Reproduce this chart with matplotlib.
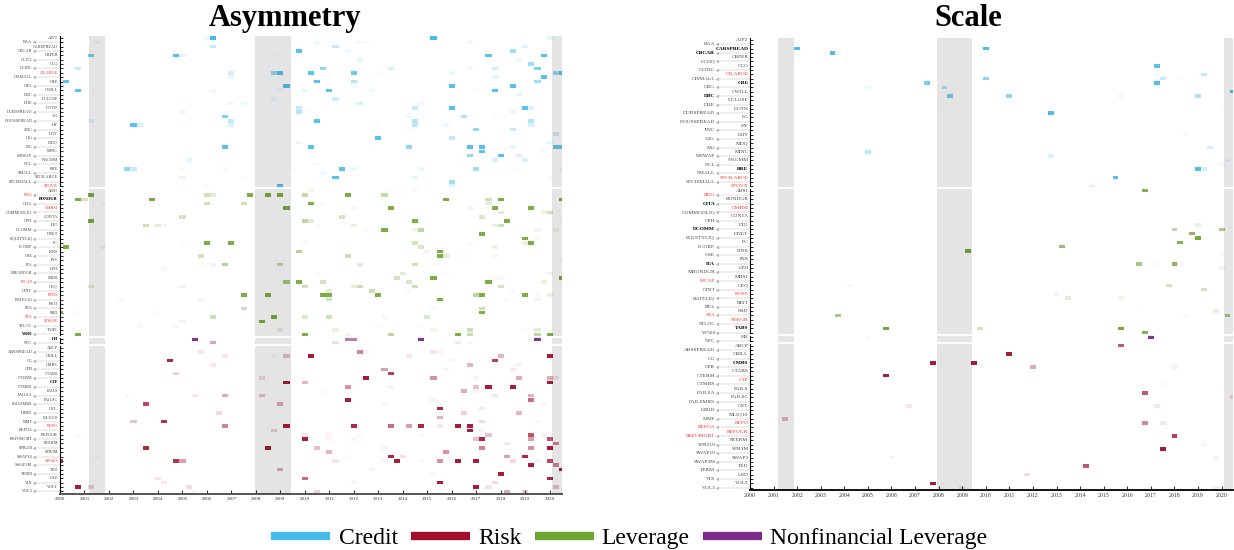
import matplotlib
matplotlib.use('Agg')
import matplotlib.pyplot as plt
import matplotlib.transforms as mtransforms
from matplotlib.lines import Line2D
from matplotlib.colors import to_rgba

plt.rcParams['font.family'] = ['Liberation Serif', 'DejaVu Serif']

# ---------------- variables (rows, top to bottom) ----------------
credit_vars = ['A2P2', 'BAA', 'CARSPREAD', 'CBCAR', 'CBPER', 'CCDQ', 'CCG', 'CCINC',
               'CILARGE', 'CISMALL', 'CRE', 'CRG', 'CWILL', 'DBC', 'DCLOSE', 'DHE',
               'DOTH', 'DURSPREAD', 'FG', 'HOUSSPREAD', 'HY', 'JINC', 'LHY', 'LIG',
               'MDQ', 'MG', 'MINC', 'MSWAP', 'NACMM', 'NCL', 'RRE', 'SMALL',
               'SPCILARGE', 'SPCISMALL', 'SPOVX']
leverage_vars = ['ABSI', 'BDG', 'BONDGR', 'CITA', 'CMBSI', 'COMMODLIQ', 'CONTA', 'CPH',
                 'DIO', 'DCOMM', 'DNET', 'EQUITYLIQ', 'FC', 'FCORP', 'FINS', 'GSE',
                 'INS', 'ITA', 'LPH', 'MBONDGR', 'MBSI', 'MCAP', 'OEQ', 'OINT', 'PENS',
                 'RATELIQ', 'REIT', 'RTA', 'SBD', 'STA', 'STKGR', 'STLOC', 'TABS', 'W500']
nonfin_vars = ['HH', 'NFC']
risk_vars = ['ABCP', 'ABSSPREAD', 'CBILL', 'CG', 'CMBS', 'CPR', 'CTABS', 'CTERM', 'CTF',
             'CTMBS', 'FAILS', 'FAILSA', 'FAILSC', 'FAILSMBS', 'GVL', 'LIBID', 'MLIQ10',
             'MMF', 'REPO', 'REPOA', 'REPOGR', 'REPOMORT', 'RTERM', 'SPR210', 'SPR3M',
             'SWAP10', 'SWAP2', 'SWAP3M', 'TED', 'TERM', 'USD', 'VIX', 'VOLT', 'VOL3']

group_names = ['Credit', 'Risk', 'Leverage', 'Nonfinancial Leverage']
group_colors = {'Credit': '#45BCEC', 'Risk': '#A50F2C', 'Leverage': '#6EA52E',
                'Nonfinancial Leverage': '#7A2B8B'}

years = list(range(2000, 2021))
recessions = [(2001.2, 2001.85), (2007.95, 2009.42), (2020.1, 2020.6)]

# label styling per panel
asym_red = ['CILARGE', 'SPOVX', 'BDG', 'CMBSI', 'MCAP', 'PENS', 'STA', 'STKGR', 'REPO', 'SWAP2']
asym_bold = ['BONDGR', 'HH', 'CTF', 'W500']
scale_red = ['CILARGE', 'SPCILARGE', 'SPOVX', 'BDG', 'CMBSI', 'MCAP', 'PENS', 'STA', 'STKGR',
             'CTF', 'REPO', 'REPOA', 'REPOGR', 'REPOMORT']
scale_bold = ['CARSPREAD', 'CBCAR', 'CRE', 'DBC', 'RRE', 'CITA', 'DCOMM', 'ITA', 'TABS', 'CMBS']

# ---------------- cells: (variable, quarter date, intensity) ----------------
asym_credit = [
    ('A2P2', 2006.0, .1), ('A2P2', 2006.25, 1.0), ('A2P2', 2007.5, .05), ('A2P2', 2015.25, 1.0), ('A2P2', 2020.0, .15),
    ('BAA', 2001.5, .1), ('BAA', 2010.5, .1), ('BAA', 2012.25, .08), ('BAA', 2012.5, .05), ('BAA', 2016.75, .1),
    ('CARSPREAD', 2006.25, .3), ('CARSPREAD', 2011.25, .3), ('CARSPREAD', 2019.0, .15),
    ('CBCAR', 2009.75, .9), ('CBCAR', 2011.75, .1), ('CBCAR', 2018.5, .5),
    ('CBPER', 2001.25, .7), ('CBPER', 2004.75, .9), ('CBPER', 2005.0, .15), ('CBPER', 2008.75, .05),
    ('CBPER', 2017.5, .9), ('CBPER', 2019.75, .9),
    ('CCDQ', 2012.25, .15), ('CCDQ', 2018.75, .1),
    ('CCG', 2019.25, .5),
    ('CCINC', 2000.75, .3), ('CCINC', 2010.75, .6), ('CCINC', 2013.5, .2), ('CCINC', 2016.75, .1),
    ('CCINC', 2017.75, .25), ('CCINC', 2019.5, .7),
    ('CILARGE', 2007.0, .25), ('CILARGE', 2008.75, .5), ('CILARGE', 2009.0, .9), ('CILARGE', 2010.25, .9),
    ('CILARGE', 2012.0, .8), ('CILARGE', 2013.0, .05), ('CILARGE', 2016.0, .1), ('CILARGE', 2020.25, .5),
    ('CILARGE', 2020.5, .9),
    ('CISMALL', 2007.0, .1), ('CISMALL', 2011.0, .05), ('CISMALL', 2017.75, .15), ('CISMALL', 2019.75, .9),
    ('CRE', 2000.25, .9), ('CRE', 2010.5, .9), ('CRE', 2012.0, .4), ('CRE', 2019.5, .5),
    ('CRG', 2009.25, .9), ('CRG', 2012.0, .05), ('CRG', 2016.0, .9), ('CRG', 2018.5, .9),
    ('CWILL', 2000.75, .9), ('CWILL', 2006.25, .1), ('CWILL', 2009.0, .1), ('CWILL', 2010.0, .15),
    ('CWILL', 2011.0, .9), ('CWILL', 2012.75, .1), ('CWILL', 2017.0, .05), ('CWILL', 2017.75, .9),
    ('DBC', 2018.75, .15),
    ('DCLOSE', 2008.75, .1), ('DCLOSE', 2011.25, .25),
    ('DHE', 2007.0, .1), ('DHE', 2007.5, .1), ('DHE', 2012.0, .05), ('DHE', 2012.25, .25), ('DHE', 2014.75, .1),
    ('DOTH', 2009.75, .3), ('DOTH', 2014.5, .3), ('DOTH', 2016.0, .9), ('DOTH', 2019.0, .9), ('DOTH', 2019.25, .2),
    ('DURSPREAD', 2005.0, .08), ('DURSPREAD', 2009.75, .4), ('DURSPREAD', 2010.0, .05), ('DURSPREAD', 2018.5, .1),
    ('FG', 2006.75, .7), ('FG', 2014.25, .1), ('FG', 2016.5, .4), ('FG', 2017.75, .05), ('FG', 2018.25, .05),
    ('HOUSSPREAD', 2001.25, .15), ('HOUSSPREAD', 2007.0, .3), ('HOUSSPREAD', 2010.5, .9),
    ('HOUSSPREAD', 2014.5, .4), ('HOUSSPREAD', 2019.25, .4),
    ('HY', 2003.0, .9), ('HY', 2003.25, .2), ('HY', 2007.0, .2), ('HY', 2013.0, .05), ('HY', 2014.5, .35),
    ('HY', 2015.75, .1), ('HY', 2019.25, .2),
    ('JINC', 2014.25, .05), ('JINC', 2017.0, .6), ('JINC', 2018.5, .3),
    ('LHY', 2020.25, .25),
    ('LIG', 2013.0, .9), ('LIG', 2016.0, .3),
    ('MDQ', 2009.75, .1), ('MDQ', 2020.0, .15),
    ('MG', 2006.75, .9), ('MG', 2010.25, .9), ('MG', 2012.75, .05), ('MG', 2014.25, .6), ('MG', 2016.75, .9),
    ('MG', 2017.25, .9), ('MG', 2018.5, .15), ('MG', 2020.25, .8), ('MG', 2020.5, .8),
    ('MINC', 2017.25, .9), ('MINC', 2019.75, .1),
    ('MSWAP', 2016.75, .6), ('MSWAP', 2018.0, .9), ('MSWAP', 2018.75, .2),
    ('NACMM', 2005.25, .15), ('NACMM', 2016.5, .05), ('NACMM', 2017.75, .2), ('NACMM', 2019.0, .2),
    ('NCL', 2010.5, .05),
    ('RRE', 2002.75, .6), ('RRE', 2003.0, .3), ('RRE', 2005.0, .05), ('RRE', 2006.75, .05), ('RRE', 2009.5, .05),
    ('RRE', 2011.5, .9), ('RRE', 2012.0, .1), ('RRE', 2014.75, .1), ('RRE', 2017.0, .5), ('RRE', 2018.5, .05),
    ('RRE', 2020.5, .1),
    ('SMALL', 2010.75, .1),
    ('SPCILARGE', 2005.0, .15), ('SPCILARGE', 2007.5, .05), ('SPCILARGE', 2011.25, .9),
    ('SPCILARGE', 2014.5, .15), ('SPCILARGE', 2020.0, .05),
    ('SPCISMALL', 2016.0, .5),
    ('SPOVX', 2006.0, .05), ('SPOVX', 2009.0, .9), ('SPOVX', 2016.0, .2),
]
asym_leverage = [
    ('ABSI', 2010.25, .1), ('ABSI', 2013.5, .03), ('ABSI', 2014.5, .05),
    ('BDG', 2001.25, .9), ('BDG', 2006.0, .35), ('BDG', 2006.25, .2), ('BDG', 2007.75, .9), ('BDG', 2008.5, .9),
    ('BDG', 2009.0, .9), ('BDG', 2010.0, .4), ('BDG', 2011.75, .9), ('BDG', 2013.25, .4), ('BDG', 2014.0, .03),
    ('BONDGR', 2000.75, .9), ('BONDGR', 2001.0, .3), ('BONDGR', 2003.75, .9), ('BONDGR', 2015.75, .9),
    ('BONDGR', 2017.5, .35), ('BONDGR', 2018.0, .9), ('BONDGR', 2020.5, .9),
    ('CITA', 2001.75, .05), ('CITA', 2006.0, .35), ('CITA', 2007.5, .35), ('CITA', 2010.25, .9),
    ('CITA', 2010.75, .05), ('CITA', 2017.5, .2),
    ('CMBSI', 2009.25, .9), ('CMBSI', 2012.0, .05), ('CMBSI', 2013.5, .9), ('CMBSI', 2016.75, .1),
    ('CMBSI', 2017.75, .9), ('CMBSI', 2019.25, .9),
    ('COMMODLIQ', 2018.0, .2), ('COMMODLIQ', 2019.75, .15), ('COMMODLIQ', 2020.0, .3),
    ('CONTA', 2005.0, .3), ('CONTA', 2011.5, .3), ('CONTA', 2017.25, .25),
    ('CPH', 2001.25, .9), ('CPH', 2010.0, .45), ('CPH', 2010.25, .2), ('CPH', 2014.5, .9), ('CPH', 2018.25, .9),
    ('CPH', 2020.5, .05),
    ('DIO', 2003.5, .35), ('DIO', 2004.0, .2), ('DIO', 2004.25, .05), ('DIO', 2010.5, .05), ('DIO', 2012.0, .15),
    ('DIO', 2017.75, .15), ('DIO', 2018.0, .35),
    ('DCOMM', 2012.5, .03), ('DCOMM', 2013.25, .9), ('DCOMM', 2014.5, .1), ('DCOMM', 2014.75, .45),
    ('DCOMM', 2019.5, .1), ('DCOMM', 2020.25, .1),
    ('DNET', 2017.25, .9),
    ('EQUITYLIQ', 2019.0, .9), ('EQUITYLIQ', 2019.5, .05),
    ('FC', 2005.0, .03), ('FC', 2006.0, .9), ('FC', 2007.0, .9), ('FC', 2010.0, .05), ('FC', 2014.5, .3),
    ('FC', 2016.75, .05), ('FC', 2019.0, .15), ('FC', 2019.25, .9),
    ('FCORP', 2000.25, .9), ('FCORP', 2001.75, .1), ('FCORP', 2014.75, .25), ('FCORP', 2017.75, .15),
    ('FINS', 2009.75, .5), ('FINS', 2015.0, .1), ('FINS', 2015.5, .9),
    ('GSE', 2005.75, .3), ('GSE', 2011.75, .35), ('GSE', 2015.5, .9), ('GSE', 2015.75, .2), ('GSE', 2016.5, .03),
    ('GSE', 2017.75, .05),
    ('INS', 2020.5, .05),
    ('ITA', 2005.75, .05), ('ITA', 2006.25, .1), ('ITA', 2006.75, .5), ('ITA', 2009.0, .4), ('ITA', 2012.25, .2),
    ('ITA', 2014.5, .35), ('ITA', 2015.25, .05),
    ('LPH', 2004.25, .05),
    ('MBONDGR', 2010.5, .05), ('MBONDGR', 2014.0, .2), ('MBONDGR', 2015.75, .05), ('MBONDGR', 2020.0, .1),
    ('MBSI', 2013.75, .3), ('MBSI', 2015.25, .9), ('MBSI', 2017.75, .05), ('MBSI', 2018.0, .05), ('MBSI', 2020.5, .9),
    ('MCAP', 2009.25, .6), ('MCAP', 2009.75, .9), ('MCAP', 2010.75, .3), ('MCAP', 2014.25, .25),
    ('MCAP', 2017.5, .9), ('MCAP', 2019.75, .15),
    ('OEQ', 2001.25, .2), ('OEQ', 2005.0, .1), ('OEQ', 2010.0, .35), ('OEQ', 2012.0, .2), ('OEQ', 2012.25, .35),
    ('OEQ', 2014.5, .35), ('OEQ', 2018.0, .3),
    ('OINT', 2011.0, .2), ('OINT', 2012.75, .35), ('OINT', 2014.25, .05), ('OINT', 2018.5, .05),
    ('PENS', 2007.5, .9), ('PENS', 2008.5, .9), ('PENS', 2010.75, .9), ('PENS', 2011.0, .9), ('PENS', 2013.0, .9),
    ('PENS', 2017.0, .45), ('PENS', 2017.25, .9), ('PENS', 2019.0, .9), ('PENS', 2019.5, .05), ('PENS', 2020.0, .15),
    ('RATELIQ', 2002.5, .05), ('RATELIQ', 2005.75, .1), ('RATELIQ', 2011.0, .3), ('RATELIQ', 2015.5, .9),
    ('RATELIQ', 2018.25, .05), ('RATELIQ', 2019.5, .1),
    ('RTA', 2007.5, .35), ('RTA', 2015.25, .05), ('RTA', 2017.25, .35),
    ('SBD', 2000.0, .9), ('SBD', 2000.75, .03), ('SBD', 2004.0, .03), ('SBD', 2017.25, .9),
    ('STA', 2006.25, .35), ('STA', 2008.75, .9), ('STA', 2010.0, .25), ('STA', 2011.0, .35), ('STA', 2013.25, .05),
    ('STA', 2015.0, .25),
    ('STKGR', 2005.0, .1), ('STKGR', 2008.25, .9),
    ('STLOC', 2003.25, .05), ('STLOC', 2004.75, .05), ('STLOC', 2013.0, .03), ('STLOC', 2014.75, .03),
    ('TABS', 2009.0, .15), ('TABS', 2011.25, .15), ('TABS', 2015.25, .1), ('TABS', 2016.75, .35),
    ('TABS', 2019.0, .03), ('TABS', 2019.5, .2),
    ('W500', 2000.75, .9), ('W500', 2010.0, .9), ('W500', 2011.75, .1), ('W500', 2013.5, .45), ('W500', 2016.25, .9),
    ('W500', 2016.75, .4), ('W500', 2019.5, .45), ('W500', 2020.0, .9),
]
asym_nonfin = [
    ('HH', 2005.5, .95), ('HH', 2011.75, .6), ('HH', 2012.0, .6), ('HH', 2014.75, .95), ('HH', 2019.5, .95),
    ('NFC', 2006.25, .4), ('NFC', 2011.25, .15), ('NFC', 2016.25, .1), ('NFC', 2016.75, .05),
]
asym_risk = [
    ('ABSSPREAD', 2005.75, .1), ('ABSSPREAD', 2012.25, .5), ('ABSSPREAD', 2012.5, .05), ('ABSSPREAD', 2015.25, .1),
    ('ABSSPREAD', 2015.5, .05),
    ('CBILL', 2006.75, .1), ('CBILL', 2008.75, .03), ('CBILL', 2009.25, .25), ('CBILL', 2010.25, .95),
    ('CBILL', 2014.25, .1), ('CBILL', 2018.0, .3), ('CBILL', 2020.0, .95),
    ('CG', 2004.5, .9), ('CG', 2016.0, .05), ('CG', 2017.75, .8),
    ('CMBS', 2006.25, .1), ('CMBS', 2016.75, .3), ('CMBS', 2018.75, .05),
    ('CPR', 2013.25, .4), ('CPR', 2015.75, .05), ('CPR', 2018.5, .1),
    ('CTABS', 2004.75, .2), ('CTABS', 2013.5, .8),
    ('CTERM', 2008.25, .15), ('CTERM', 2012.5, .95), ('CTERM', 2015.25, .45), ('CTERM', 2017.0, .05),
    ('CTERM', 2018.75, .35), ('CTERM', 2020.0, .35), ('CTERM', 2020.25, .1),
    ('CTF', 2009.25, .95), ('CTF', 2010.0, .3), ('CTF', 2020.0, .95),
    ('CTMBS', 2011.75, .45), ('CTMBS', 2013.5, .05), ('CTMBS', 2017.0, .25), ('CTMBS', 2017.5, .95),
    ('CTMBS', 2018.5, .95),
    ('FAILS', 2010.75, .03), ('FAILS', 2016.5, .35), ('FAILS', 2017.0, .05),
    ('FAILSA', 2002.75, .03), ('FAILSA', 2005.5, .1), ('FAILSA', 2006.75, .35), ('FAILSA', 2008.25, .25),
    ('FAILSA', 2017.75, .1), ('FAILSA', 2019.25, .3),
    ('FAILSC', 2011.75, .95), ('FAILSC', 2015.25, .05), ('FAILSC', 2019.25, .6),
    ('FAILSMBS', 2003.5, .75), ('FAILSMBS', 2009.0, .35), ('FAILSMBS', 2013.25, .03), ('FAILSMBS', 2019.75, .03),
    ('GVL', 2015.5, .9), ('GVL', 2017.25, .1),
    ('LIBID', 2006.5, .15), ('LIBID', 2016.5, .2), ('LIBID', 2018.75, .3),
    ('MLIQ10', 2015.5, .3),
    ('MMF', 2003.0, .25), ('MMF', 2004.25, .85), ('MMF', 2017.25, .15), ('MMF', 2019.5, .03),
    ('REPO', 2006.75, .5), ('REPO', 2009.25, .95), ('REPO', 2012.0, .9), ('REPO', 2013.5, .6), ('REPO', 2014.25, .4),
    ('REPO', 2014.75, .9), ('REPO', 2015.5, .1), ('REPO', 2016.25, .95), ('REPO', 2016.75, .95),
    ('REPOA', 2008.75, .2), ('REPOA', 2016.75, .95), ('REPOA', 2017.25, .05),
    ('REPOGR', 2000.75, .03), ('REPOGR', 2010.0, .1), ('REPOGR', 2011.0, .05), ('REPOGR', 2012.25, .03),
    ('REPOGR', 2014.75, .03), ('REPOGR', 2017.5, .25), ('REPOGR', 2019.25, .7), ('REPOGR', 2019.75, .05),
    ('REPOMORT', 2010.0, .95), ('REPOMORT', 2011.0, .05), ('REPOMORT', 2012.0, .05), ('REPOMORT', 2017.0, .25),
    ('REPOMORT', 2017.25, .9), ('REPOMORT', 2019.25, .4), ('REPOMORT', 2020.0, .7),
    ('RTERM', 2018.25, .1), ('RTERM', 2020.25, .5),
    ('SPR210', 2003.5, .9), ('SPR210', 2008.5, .95), ('SPR210', 2010.5, .25), ('SPR210', 2013.25, .05),
    ('SPR210', 2017.25, .5), ('SPR210', 2019.25, .45), ('SPR210', 2020.0, .95),
    ('SPR3M', 2011.0, .3), ('SPR3M', 2015.75, .45),
    ('SWAP10', 2001.5, .03), ('SWAP10', 2011.75, .03), ('SWAP10', 2013.5, .9), ('SWAP10', 2014.0, .1),
    ('SWAP10', 2018.25, .4), ('SWAP10', 2019.0, .9),
    ('SWAP2', 2000.0, .9), ('SWAP2', 2004.75, .85), ('SWAP2', 2005.0, .4), ('SWAP2', 2011.25, .1),
    ('SWAP2', 2013.25, .05), ('SWAP2', 2013.75, .95), ('SWAP2', 2014.75, .03), ('SWAP2', 2015.5, .45),
    ('SWAP2', 2016.25, .95), ('SWAP2', 2017.0, .95), ('SWAP2', 2018.5, .15), ('SWAP2', 2019.5, .05),
    ('SWAP2', 2020.0, .75),
    ('SWAP3M', 2019.25, .95), ('SWAP3M', 2020.25, .5),
    ('TED', 2009.0, .35), ('TED', 2012.75, .05), ('TED', 2020.5, .95),
    ('TERM', 2015.25, .03), ('TERM', 2018.0, .95),
    ('USD', 2004.0, .1), ('USD', 2010.0, .6), ('USD', 2020.0, .9),
    ('VIX', 2004.25, .1), ('VIX', 2012.0, .05), ('VIX', 2015.5, .95), ('VIX', 2017.75, .15),
    ('VOLT', 2000.75, .95), ('VOLT', 2001.25, .2), ('VOLT', 2005.25, .15), ('VOLT', 2017.0, .95),
    ('VOLT', 2017.5, .1), ('VOLT', 2020.25, .25),
    ('VOL3', 2005.5, .05), ('VOL3', 2010.5, .2), ('VOL3', 2018.25, .35), ('VOL3', 2019.0, .2),
]

scale_credit = [
    ('CARSPREAD', 2002.0, .95), ('CARSPREAD', 2010.0, .95),
    ('CBCAR', 2003.5, .95), ('CBCAR', 2003.75, .1),
    ('CCG', 2017.25, .9),
    ('CILARGE', 2017.25, .08), ('CILARGE', 2019.25, .3),
    ('CISMALL', 2010.0, .6), ('CISMALL', 2017.5, .3), ('CISMALL', 2018.25, .05),
    ('CRE', 2007.5, .75), ('CRE', 2017.25, .95),
    ('CRG', 2005.0, .1), ('CRG', 2008.25, .4),
    ('CWILL', 2020.5, .9),
    ('DBC', 2008.5, .7), ('DBC', 2011.0, .6), ('DBC', 2015.75, .08), ('DBC', 2019.0, .45),
    ('DHE', 2008.25, .05),
    ('DOTH', 2020.0, .05),
    ('DURSPREAD', 2012.75, .95),
    ('LHY', 2018.5, .05),
    ('MG', 2019.5, .25),
    ('MINC', 2005.0, .35),
    ('MSWAP', 2012.75, .2),
    ('NACMM', 2020.25, .1),
    ('NCL', 2020.0, .08),
    ('RRE', 2019.0, .95), ('RRE', 2019.25, .2),
    ('SPCILARGE', 2015.5, .9),
    ('SPOVX', 2014.5, .2),
]
scale_leverage = [
    ('ABSI', 2016.75, .85),
    ('DIO', 2019.0, .15),
    ('DCOMM', 2018.0, .45), ('DCOMM', 2020.0, .6),
    ('DNET', 2018.75, .8),
    ('EQUITYLIQ', 2019.0, .95),
    ('FC', 2018.25, .85),
    ('FCORP', 2013.25, .7),
    ('FINS', 2009.25, .95),
    ('GSE', 2020.0, .05),
    ('ITA', 2016.5, .6), ('ITA', 2017.25, .05), ('ITA', 2018.0, .8),
    ('LPH', 2020.0, .1),
    ('OEQ', 2004.25, .05), ('OEQ', 2017.75, .3),
    ('OINT', 2019.25, .3),
    ('PENS', 2013.0, .1),
    ('RATELIQ', 2013.5, .2), ('RATELIQ', 2015.75, .1),
    ('RTA', 2016.5, .03),
    ('SBD', 2019.75, .15),
    ('STA', 2003.75, .6), ('STA', 2018.5, .05), ('STA', 2020.25, .6),
    ('TABS', 2005.75, .95), ('TABS', 2009.75, .3), ('TABS', 2015.75, .95),
    ('W500', 2016.75, .85),
]
scale_nonfin = [
    ('HH', 2005.0, .03), ('HH', 2017.0, .95),
]
scale_risk = [
    ('ABCP', 2015.75, .7),
    ('CBILL', 2011.0, .95),
    ('CMBS', 2007.75, .95), ('CMBS', 2009.5, .95),
    ('CPR', 2012.0, .35), ('CPR', 2018.0, .08),
    ('CTERM', 2005.75, .95),
    ('CTMBS', 2017.5, .03),
    ('FAILSA', 2016.75, .7),
    ('FAILSC', 2020.5, .15),
    ('GVL', 2006.75, .1), ('GVL', 2017.25, .1),
    ('MMF', 2001.5, .3),
    ('REPO', 2016.75, .5), ('REPO', 2017.5, .1),
    ('REPOMORT', 2018.0, .8),
    ('SPR210', 2019.25, .05),
    ('SPR3M', 2017.5, .95),
    ('SWAP2', 2006.0, .05), ('SWAP2', 2019.75, .08),
    ('TED', 2014.25, .7),
    ('USD', 2011.75, .15),
    ('VOLT', 2007.75, .95),
    ('VOL3', 2009.0, .1), ('VOL3', 2019.75, .1),
]

# ---------------- drawing ----------------
groups = [credit_vars, leverage_vars, nonfin_vars, risk_vars]
all_vars = credit_vars + leverage_vars + nonfin_vars + risk_vars
row_of = {v: i for i, v in enumerate(all_vars)}
side_right = {}
for g in groups:
    for j, v in enumerate(g):
        side_right[v] = (j % 2 == 0)
boundaries = [len(credit_vars) - 0.5,
              len(credit_vars) + len(leverage_vars) - 0.5,
              len(credit_vars) + len(leverage_vars) + len(nonfin_vars) - 0.5]

W, H = 1234, 550
fig = plt.figure(figsize=(W / 100, H / 100), dpi=100)


def draw_panel(rect, cells_by_group, red, bold, lab_fs, xt_fs, left_off, right_off, spine_col, title, title_x):
    ax = fig.add_axes(rect)
    for gname, cells in cells_by_group:
        base = group_colors[gname]
        ys = [row_of[v] for v, d, a in cells]
        xs = [d - 0.125 for v, d, a in cells]
        cols = [to_rgba(base, a) for v, d, a in cells]
        ax.barh(ys, [0.25] * len(cells), left=xs, height=0.82, color=cols, linewidth=0, zorder=2)
    for a0, a1 in recessions:
        ax.axvspan(a0, a1, color='black', alpha=0.105, lw=0, zorder=3)
    for b in boundaries:
        ax.axhline(b, color='white', lw=1.3, zorder=4)
    ax.set_xlim(2000, 2020.5)
    ax.set_ylim(len(all_vars) - 0.5, -0.5)
    ax.set_yticks(range(len(all_vars)))
    ax.set_yticklabels([])
    ax.set_xticks(years)
    ax.set_xticklabels([str(y) for y in years], fontsize=xt_fs, color='#333333')
    ax.tick_params(axis='y', direction='in', length=2.2, width=0.7, color='#222222', pad=0)
    ax.tick_params(axis='x', direction='in', length=3, width=0.8, color='#333333', pad=2.5)
    for s in ['top', 'right']:
        ax.spines[s].set_visible(False)
    ax.spines['left'].set_linewidth(0.8)
    ax.spines['bottom'].set_linewidth(1.4)
    ax.spines['bottom'].set_color(spine_col)
    tr = mtransforms.blended_transform_factory(ax.transAxes, ax.transData)
    for v in all_vars:
        i = row_of[v]
        if v in red:
            col, fw = '#FF2A2A', 'normal'
        elif v in bold:
            col, fw = 'black', 'bold'
        else:
            col, fw = '#444444', 'normal'
        if side_right[v]:
            ax.text(-right_off, i, v, transform=tr, ha='right', va='center', fontsize=lab_fs,
                    color=col, fontweight=fw, clip_on=False)
        else:
            ax.text(-left_off, i, v, transform=tr, ha='right', va='center', fontsize=lab_fs,
                    color=col, fontweight=fw, clip_on=False)
            x0 = -left_off + 0.004
            ax.plot([x0, 0], [i, i], transform=tr, color='#9a9a9a', lw=0.35, ls=(0, (1.5, 0.8)),
                    clip_on=False, zorder=1)
            ax.plot([x0], [i], transform=tr, marker='<', ms=1.6, mew=0.3, mfc='none',
                    mec='#777777', clip_on=False, zorder=1)
    fig.text(title_x, 0.967, title, ha='center', va='center', fontsize=22, fontweight='bold')
    return ax


ax1 = draw_panel([60 / W, 1 - 493.6 / H, 502 / W, 457.8 / H],
                 [('Credit', asym_credit), ('Leverage', asym_leverage),
                  ('Nonfinancial Leverage', asym_nonfin), ('Risk', asym_risk)],
                 asym_red, asym_bold, 3.1, 3.6, 0.055, 0.004, '#555555', 'Asymmetry', 285 / W)
ax2 = draw_panel([750 / W, 1 - 489.8 / H, 483.4 / W, 452 / H],
                 [('Credit', scale_credit), ('Leverage', scale_leverage),
                  ('Nonfinancial Leverage', scale_nonfin), ('Risk', scale_risk)],
                 scale_red, scale_bold, 3.9, 4.2, 0.072, 0.003, '#111111', 'Scale', 968 / W)

handles = [Line2D([0], [0], color=group_colors[g], lw=6, solid_capstyle='butt') for g in group_names]
fig.legend(handles, group_names, loc='center', bbox_to_anchor=(0.51, 1 - 538 / H),
           ncol=4, frameon=False, fontsize=17, handlelength=2.5, handletextpad=0.35,
           columnspacing=0.55)

fig.savefig('out.png', dpi=100)
